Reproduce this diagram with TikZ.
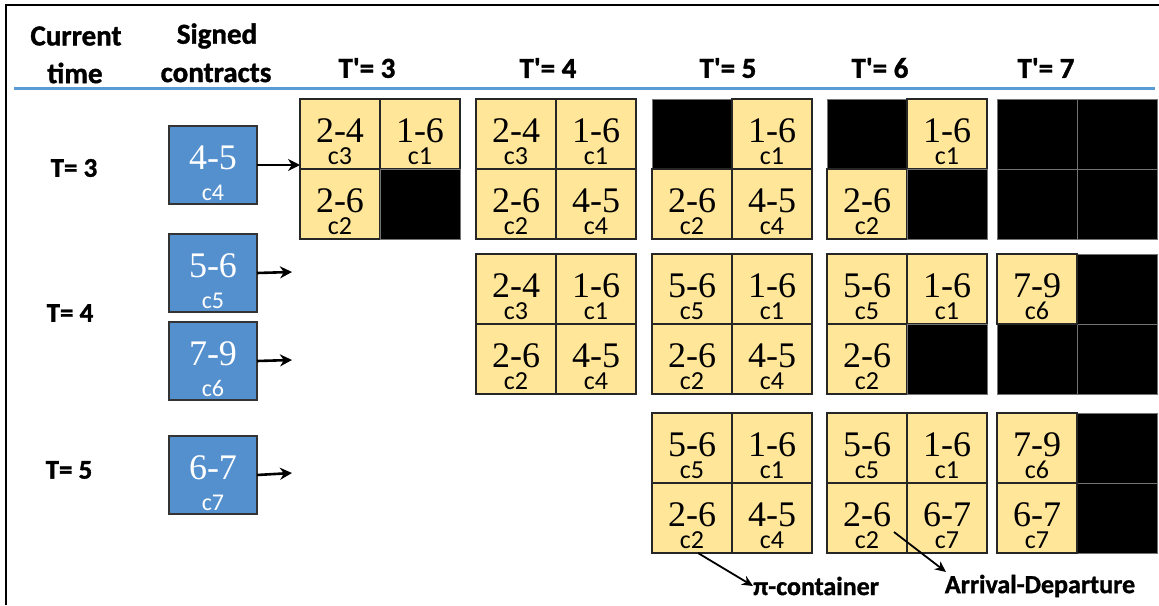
\documentclass[tikz,border=0pt]{standalone}
\usepackage{fontspec}
\setmainfont{Liberation Serif}
\newfontfamily\serf{Liberation Serif}
\newfontfamily\carl{Carlito}
\newfontfamily\heavy[BoldFeatures={FakeBold=1.3}]{Carlito}
\usetikzlibrary{arrows.meta}
\definecolor{cellyellow}{RGB}{255,230,153}
\definecolor{boxblue}{RGB}{84,144,206}
\definecolor{ruleblue}{RGB}{91,155,213}
\tikzset{
  ycellbox/.style={draw=black!85, line width=1.4pt, fill=cellyellow, minimum width=80pt, minimum height=70pt, inner sep=0pt, outer sep=0pt, anchor=north west},
  bcellbox/.style={draw=black!55, line width=1pt, fill=black, minimum width=80pt, minimum height=70pt, inner sep=0pt, outer sep=0pt, anchor=north west},
  celltxt/.style={inner sep=0pt, anchor=base},
  bcelltxt/.style={inner sep=0pt, anchor=base, text=white},
  hdr/.style={font=\heavy\bfseries\fontsize{29}{30}\selectfont, inner sep=0pt},
  rowlab/.style={font=\heavy\bfseries\fontsize{27}{27}\selectfont, inner sep=0pt},
  botlab/.style={font=\heavy\bfseries\fontsize{26}{26}\selectfont, inner sep=0pt},
  arr/.style={-{Stealth[length=12pt,width=12pt]}, line width=2.6pt},
  thinarr/.style={-{Stealth[length=11pt,width=10pt]}, line width=1.8pt},
  bbox/.style={draw=black!80, line width=1.4pt, fill=boxblue, minimum width=88pt, minimum height=78pt, anchor=north west, inner sep=0pt, outer sep=0pt},
}
% two-line cell label: main number (serif) above, contract id (sans) below
\newcommand\twolines[4]{%
  \ooalign{\hfil\raisebox{#1}{\serf\fontsize{36}{36}\selectfont #3}\hfil\cr
           \hfil{\carl\fontsize{#2}{#2}\selectfont #4}\hfil\cr}}
\newcommand\ycell[5]{%
  \node[ycellbox] (#1) at (#2,#3) {};
  \node[celltxt] (#1t) at ([yshift=-65pt]#1.north) {\twolines{22pt}{26}{#4}{#5}};
}
\newcommand\bcell[3]{\node[bcellbox] (#1) at (#2,#3) {};}
\newcommand\bluebox[5]{%
  \node[bbox] (#1) at (#2,#3) {};
  \node[bcelltxt] (#1t) at ([yshift=-74pt]#1.north) {\twolines{31pt}{24}{#4}{#5}};
}
\begin{document}
\begin{tikzpicture}[x=1pt,y=-1pt]
\useasboundingbox (0,0) rectangle (1159,605);
\fill[white] (0,0) rectangle (1159,605);
% frame
\draw[line width=1.6pt] (6,605) -- (6,5) -- (1159,5);
% header
\node[hdr] (h1a) at (76,36) {Current};
\node[hdr] (h1b) at (75,73) {time};
\node[hdr] (h2a) at (217,36) {Signed};
\node[hdr] (h2b) at (216,73) {contracts};
\node[hdr] (tp3) at (367,68) {T'= 3};
\node[hdr] (tp4) at (548,68) {T'= 4};
\node[hdr] (tp5) at (728,68) {T'= 5};
\node[hdr] (tp6) at (880,68) {T'= 6};
\node[hdr] (tp7) at (1046,68) {T'= 7};
\draw[ruleblue, line width=3pt] (14,88) -- (1155,88);
% row labels
\node[rowlab] (r3) at (74,168) {T= 3};
\node[rowlab] (r4) at (70,313) {T= 4};
\node[rowlab] (r5) at (69,470) {T= 5};
% signed contracts
\bluebox{b45}{169}{126}{4-5}{c4}
\bluebox{b56}{169}{234}{5-6}{c5}
\bluebox{b79}{169}{322}{7-9}{c6}
\bluebox{b67}{169}{436}{6-7}{c7}
% ---- T = 3 ----
\ycell{a33a}{300}{99}{2-4}{c3}
\ycell{a33b}{380}{99}{1-6}{c1}
\ycell{a33c}{300}{169}{2-6}{c2}
\bcell{a33d}{380}{169}
\ycell{a34a}{476}{99}{2-4}{c3}
\ycell{a34b}{556}{99}{1-6}{c1}
\ycell{a34c}{476}{169}{2-6}{c2}
\ycell{a34d}{556}{169}{4-5}{c4}
\bcell{a35a}{652}{99}
\ycell{a35b}{732}{99}{1-6}{c1}
\ycell{a35c}{652}{169}{2-6}{c2}
\ycell{a35d}{732}{169}{4-5}{c4}
\bcell{a36a}{827}{99}
\ycell{a36b}{907}{99}{1-6}{c1}
\ycell{a36c}{827}{169}{2-6}{c2}
\bcell{a36d}{907}{169}
\bcell{a37a}{997}{99}
\bcell{a37b}{1077}{99}
\bcell{a37c}{997}{169}
\bcell{a37d}{1077}{169}
% ---- T = 4 ----
\ycell{a44a}{476}{254}{2-4}{c3}
\ycell{a44b}{556}{254}{1-6}{c1}
\ycell{a44c}{476}{324}{2-6}{c2}
\ycell{a44d}{556}{324}{4-5}{c4}
\ycell{a45a}{652}{254}{5-6}{c5}
\ycell{a45b}{732}{254}{1-6}{c1}
\ycell{a45c}{652}{324}{2-6}{c2}
\ycell{a45d}{732}{324}{4-5}{c4}
\ycell{a46a}{827}{254}{5-6}{c5}
\ycell{a46b}{907}{254}{1-6}{c1}
\ycell{a46c}{827}{324}{2-6}{c2}
\bcell{a46d}{907}{324}
\bcell{a47b}{1077}{254}
\bcell{a47c}{997}{324}
\bcell{a47d}{1077}{324}
\ycell{a47a}{997}{254}{7-9}{c6}
% ---- T = 5 ----
\ycell{a55a}{652}{413}{5-6}{c5}
\ycell{a55b}{732}{413}{1-6}{c1}
\ycell{a55c}{652}{483}{2-6}{c2}
\ycell{a55d}{732}{483}{4-5}{c4}
\ycell{a56a}{827}{413}{5-6}{c5}
\ycell{a56b}{907}{413}{1-6}{c1}
\ycell{a56c}{827}{483}{2-6}{c2}
\ycell{a56d}{907}{483}{6-7}{c7}
\bcell{a57b}{1077}{413}
\bcell{a57d}{1077}{483}
\ycell{a57a}{997}{413}{7-9}{c6}
\ycell{a57c}{997}{483}{6-7}{c7}
% arrows from signed contracts
\coordinate (e56) at (292,272);
\coordinate (e79) at (292,360);
\coordinate (e67) at (292,473);
\draw[arr] (b45.east) -- (b45.east -| a33a.west);
\draw[arr] (b56.east) -- (e56);
\draw[arr] (b79.east) -- (e79);
\draw[arr] (b67.east) -- (e67);
% bottom labels
\node[botlab, anchor=west] (pil) at (753,586) {π-container};
\node[botlab] (adl) at (1040,586) {Arrival-Departure};
\coordinate (pistart) at (698,553);
\coordinate (adstart) at (894,532);
\coordinate (adend) at (946,572);
\draw[thinarr] (pistart) -- (pil.west);
\draw[thinarr] (adstart) -- (adend);
\end{tikzpicture}
\end{document}
